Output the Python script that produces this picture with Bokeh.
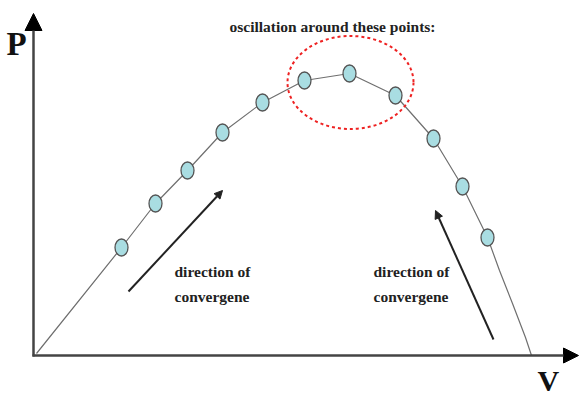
from bokeh.plotting import figure
from bokeh.models import Arrow, NormalHead, Label, ColumnDataSource
from bokeh.embed import file_html
from bokeh.resources import INLINE

# P-V curve samples (V, P), origin at the axes' corner
curve_v = [3, 88, 122, 154, 189, 229, 271, 316, 362, 400, 429, 454, 466, 479, 492, 498]
curve_p = [2, 108, 152, 185, 223, 253, 275, 282, 260, 217, 169, 118, 85, 52, 18, 0]

# tracker operating points along the curve
pt_v = [88, 122, 154, 189, 229, 271, 316, 362, 400, 429, 454]
pt_p = [108, 152, 185, 223, 253, 275, 282, 260, 217, 169, 118]

title_text = "oscillation around these points:"
dir_lines = ["direction of", "convergene"]

W, H = 579, 397
p = figure(width=W, height=H, x_range=(-33, W - 33), y_range=(-42, H - 42),
           x_axis_type=None, y_axis_type=None, toolbar_location=None,
           output_backend="svg", min_border=0, outline_line_color=None,
           background_fill_color="white", border_fill_color="white")
p.grid.visible = False

# curve and points
p.line(curve_v, curve_p, line_color="#6f6f6f", line_width=1.2)
src = ColumnDataSource(dict(v=pt_v, p=pt_p))
p.ellipse(x="v", y="p", width=13, height=17, source=src,
          fill_color="#a9dde2", line_color="#555555", line_width=1.3)

# dashed ellipse around the top points
p.ellipse(x=[317], y=[273], width=[126], height=[93], fill_color=None,
          line_color="#ee2222", line_width=2, line_dash="3 3")

# P and V axes with arrow heads
p.add_layout(Arrow(x_start=0, y_start=-1, x_end=0, y_end=342,
                   line_color="#444444", line_width=2.5,
                   end=NormalHead(size=17, fill_color="black", line_color="black")))
p.add_layout(Arrow(x_start=-1, y_start=0, x_end=545, y_end=0,
                   line_color="#444444", line_width=2.5,
                   end=NormalHead(size=15, fill_color="black", line_color="black")))

# direction of convergence arrows
p.add_layout(Arrow(x_start=95, y_start=64, x_end=189, y_end=165,
                   line_color="#222222", line_width=2,
                   end=NormalHead(size=8, fill_color="#222222", line_color="#222222")))
p.add_layout(Arrow(x_start=460, y_start=16, x_end=402, y_end=145,
                   line_color="#222222", line_width=2,
                   end=NormalHead(size=8, fill_color="#222222", line_color="#222222")))

font = "Liberation Serif"
p.add_layout(Label(x=-27, y=330, text="P", text_font=font, text_font_size="33px",
                   text_font_style="bold", text_color="#111111",
                   text_baseline="top", text_align="left"))
p.add_layout(Label(x=504, y=-8, text="V", text_font=font, text_font_size="30px",
                   text_font_style="bold", text_color="#111111",
                   text_baseline="top", text_align="left"))
p.add_layout(Label(x=299, y=329, text=title_text, text_font=font,
                   text_font_size="15.5px", text_font_style="bold",
                   text_color="#222222", text_baseline="middle", text_align="center"))

for x0 in (141, 340):
    for i, line in enumerate(dir_lines):
        p.add_layout(Label(x=x0, y=84 - 25 * i, text=line, text_font=font,
                           text_font_size="15.5px", text_font_style="bold",
                           text_color="#222222", text_baseline="middle",
                           text_align="left"))

open("out.html", "w").write(file_html(p, INLINE))
